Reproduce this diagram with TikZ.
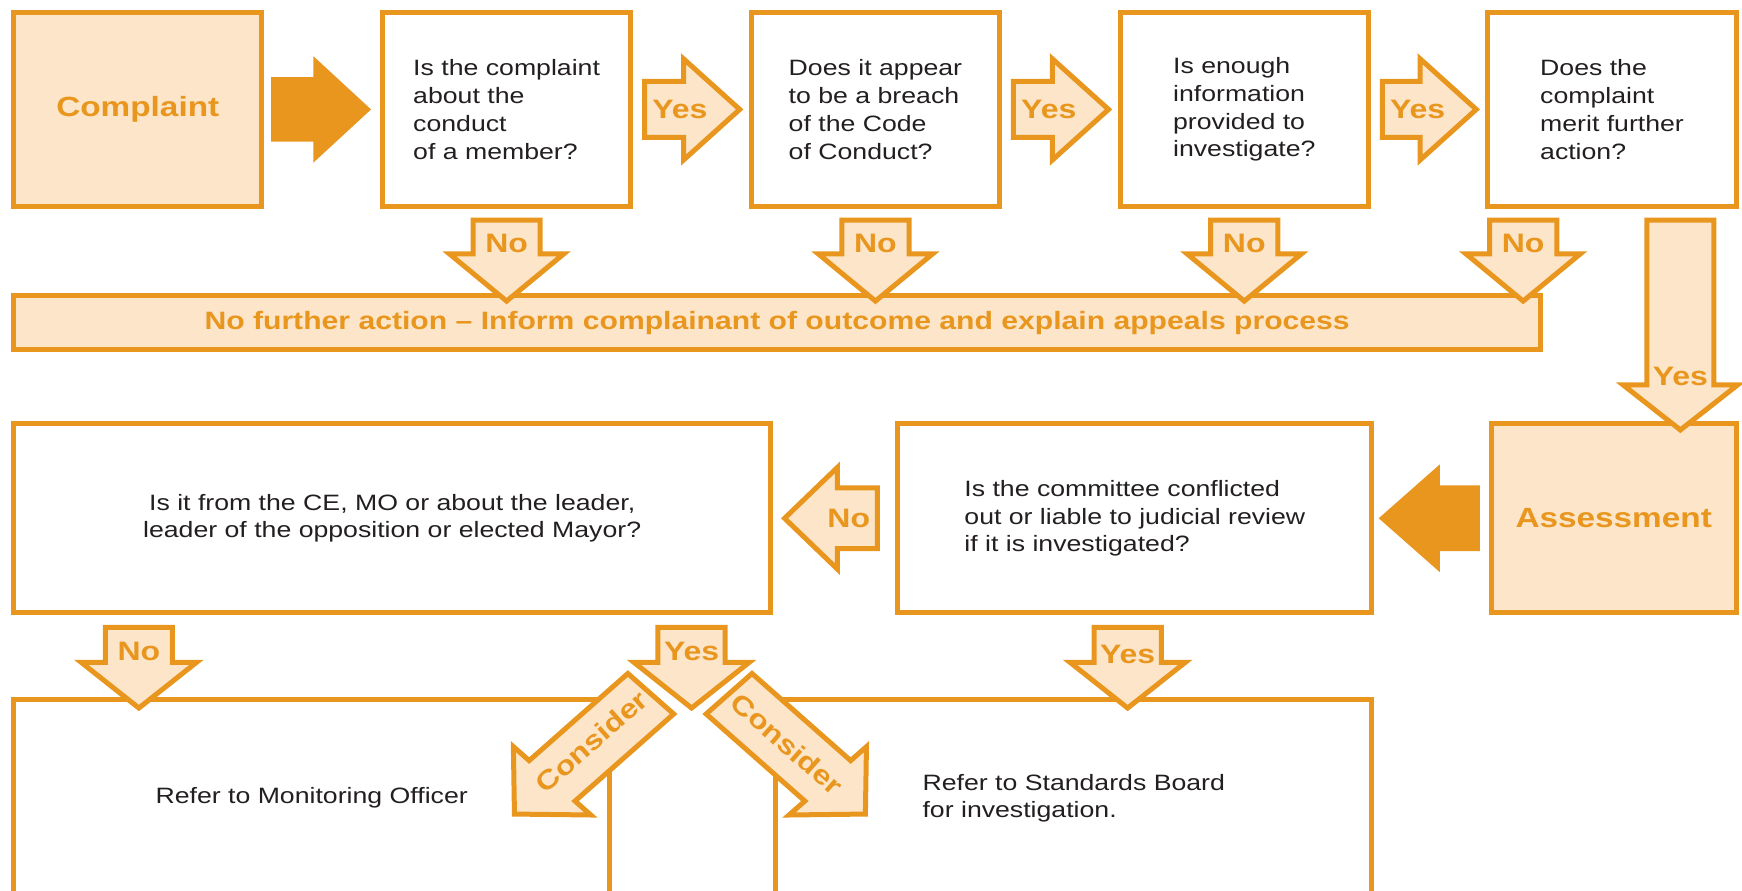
\documentclass[tikz,border=0pt]{standalone}
\usepackage{fontspec}
\setmainfont{Liberation Sans}[FakeStretch=1.2]
\usetikzlibrary{calc}
\definecolor{org}{RGB}{233,150,30}
\definecolor{peach}{RGB}{252,229,200}
\definecolor{ink}{RGB}{35,31,32}
% #1 style, #2 start, #3 tip, #4 shaft half width, #5 head half width, #6 head length
\newcommand{\blockarrow}[6]{%
  \coordinate (ba-s) at #2;
  \coordinate (ba-t) at #3;
  \coordinate (ba-b) at ($(ba-t)!#6!(ba-s)$);
  \draw[#1] ($(ba-s)!#4!90:(ba-t)$) -- ($(ba-b)!#4!90:(ba-t)$) -- ($(ba-b)!#5!90:(ba-t)$)
    -- (ba-t) -- ($(ba-b)!#5!-90:(ba-t)$) -- ($(ba-b)!#4!-90:(ba-t)$) -- ($(ba-s)!#4!-90:(ba-t)$) -- cycle;
}
\tikzset{
  box/.style={draw=org, line width=4.5pt, fill=white, inner sep=0pt, text=ink,
    font=\fontsize{20}{25}\selectfont},
  pbox/.style={box, fill=peach},
  arr/.style={draw=org, fill=peach, line width=4.5pt, line join=miter},
  solidarr/.style={fill=org, draw=none},
  lbl/.style={text=org, font=\fontsize{24}{28}\selectfont\bfseries, inner sep=0pt},
  title/.style={text=org, font=\fontsize{25}{30}\selectfont\bfseries},
}
\begin{document}
\begin{tikzpicture}[x=1pt,y=-1pt]
\useasboundingbox (0,0) rectangle (1568,802);
\clip (0,0) rectangle (1568,802);

% ---------- top row ----------
\node[pbox, minimum width=223.5pt, minimum height=174.5pt, title] (comp) at (124,98.5) {Complaint};
\node[box, minimum width=223.5pt, minimum height=174.5pt, align=left] (q1) at (456,98.5)
  {Is the complaint\\about the\\conduct\\of a member?};
\node[box, minimum width=223.5pt, minimum height=174.5pt, align=left] (q2) at (788,98.5)
  {Does it appear\\to be a breach\\of the Code\\of Conduct?};
\node[box, minimum width=223.5pt, minimum height=174.5pt, align=left] (q3) at (1120,98.5)
  {Is enough\\information\\provided to\\investigate?};
\node[box, minimum width=223.5pt, minimum height=174.5pt, align=left] (q4) at (1451,98.5)
  {Does the\\complaint\\merit further\\action?};

\node[pbox, minimum width=1374.5pt, minimum height=48.5pt, text=org,
  font=\fontsize{22.6}{26}\selectfont\bfseries] (bar) at (699.5,290.5)
  {No further action -- Inform complainant of outcome and explain appeals process};

% ---------- lower rows ----------
\node[box, minimum width=681.5pt, minimum height=170.5pt, align=center] (l1) at (353,466.5)
  {Is it from the CE, MO or about the leader,\\leader of the opposition or elected Mayor?};
\node[box, minimum width=426.5pt, minimum height=170.5pt, align=left] (l2) at (1021.5,466.5)
  {Is the committee conflicted\\out or liable to judicial review\\if it is investigated?};
\node[pbox, minimum width=220.5pt, minimum height=170.5pt, title] (ass) at (1452.5,466.5) {Assessment};

\node[box, minimum width=536.5pt, minimum height=178.5pt] (mo) at (280.5,718.5)
  {Refer to Monitoring Officer};
\node[box, minimum width=536.5pt, minimum height=178.5pt, align=left] (sb) at (966.5,718.5)
  {Refer to Standards Board\\for investigation.};

% ---------- horizontal arrows, top row ----------
\blockarrow{solidarr}{($(comp.east)+(6,0)$)}{($(q1.west)+(-8,0)$)}{29pt}{48pt}{52pt}
\blockarrow{arr}{($(q1.east)+(10.25,0)$)}{($(q2.west)+(-8.2,0)$)}{25.25pt}{45.5pt}{50.5pt}
\node[lbl] (y1) at ($(q1.east)+(42,0)$) {Yes};
\blockarrow{arr}{($(q2.east)+(10.25,0)$)}{($(q3.west)+(-8.2,0)$)}{25.25pt}{45.5pt}{50.5pt}
\node[lbl] (y2) at ($(q2.east)+(42,0)$) {Yes};
\blockarrow{arr}{($(q3.east)+(10.25,0)$)}{($(q4.west)+(-8.2,0)$)}{25.25pt}{45.5pt}{50.5pt}
\node[lbl] (y3) at ($(q3.east)+(42,0)$) {Yes};

% ---------- No arrows down to the bar ----------
\coordinate (n1s) at ($(q1.south)+(0,10.25)$);
\coordinate (n2s) at ($(q2.south)+(0,10.25)$);
\coordinate (n3s) at ($(q3.south)+(0,10.25)$);
\coordinate (n4s) at ($(q4.south)+(-80,10.25)$);
\foreach \n in {1,2,3,4}{
  \blockarrow{arr}{(n\n s)}{($(n\n s |- bar.north)+(0,7)$)}{30.25pt}{51.5pt}{42.5pt}
  \node[lbl] (no\n) at ($(n\n s)+(0,20.5)$) {No};
}

% ---------- tall Yes arrow to Assessment ----------
\coordinate (tys) at ($(q4.south)+(61.5,10.25)$);
\blockarrow{arr}{(tys)}{($(tys |- ass.north)+(0,8)$)}{30.25pt}{51.5pt}{40.5pt}
\node[lbl] (ty) at ($(tys)+(0,141)$) {Yes};

% ---------- lower horizontal arrows ----------
\blockarrow{solidarr}{($(ass.west)+(-8,0)$)}{($(l2.east)+(4,0)$)}{29.5pt}{48.5pt}{55pt}
\blockarrow{arr}{($(l2.west)+(-16.25,0)$)}{($(l1.east)+(10.2,0)$)}{27.25pt}{45.75pt}{47.5pt}
\node[lbl] (nol) at ($(l2.west)+(-42,0)$) {No};

% ---------- lower vertical arrows ----------
\coordinate (a1s) at ($(l1.south west)+(115,10.75)$);
\coordinate (a2s) at ($(l1.south west)+(612.5,10.75)$);
\coordinate (a3s) at ($(l2.south)+(-6.5,10.75)$);
\blockarrow{arr}{(a1s)}{($(a1s |- mo.north)+(0,10.3)$)}{30.25pt}{51.75pt}{41pt}
\blockarrow{arr}{(a2s)}{($(a2s |- mo.north)+(0,10.3)$)}{30.25pt}{51.75pt}{41pt}
\blockarrow{arr}{(a3s)}{($(a3s |- sb.north)+(0,10.3)$)}{30.25pt}{51.75pt}{41pt}
\node[lbl] (no5) at ($(a1s)+(0,22)$) {No};
\node[lbl] (y4) at ($(a2s)+(0,22)$) {Yes};
\node[lbl] (y5) at ($(a3s)+(0,24)$) {Yes};

% ---------- Consider arrows (45 degree arrows, stretched horizontally) ----------
\coordinate (ct1) at ($(mo.north east)+(-90.5,108)$);
\coordinate (ct2) at ($(sb.north west)+(85.5,108)$);
\begin{scope}[shift={(ct1)}, xscale=1.133]
  \draw[arr] (128.77,-92.35) -- (50.38,-13.97) -- (62.93,-1.41) -- (2.26,-2.26)
    -- (1.41,-62.93) -- (13.97,-50.38) -- (92.35,-128.77) -- cycle;
\end{scope}
\begin{scope}[shift={(ct2)}, xscale=-1.133]
  \draw[arr] (128.77,-92.35) -- (50.38,-13.97) -- (62.93,-1.41) -- (2.26,-2.26)
    -- (1.41,-62.93) -- (13.97,-50.38) -- (92.35,-128.77) -- cycle;
\end{scope}
\node[lbl, rotate=41.4] (c1) at ($(ct1)+(72,-67.5)$) {Consider};
\node[lbl, rotate=-41.4] (c2) at ($(ct2)+(-72.9,-65.4)$) {Consider};
\end{tikzpicture}
\end{document}
